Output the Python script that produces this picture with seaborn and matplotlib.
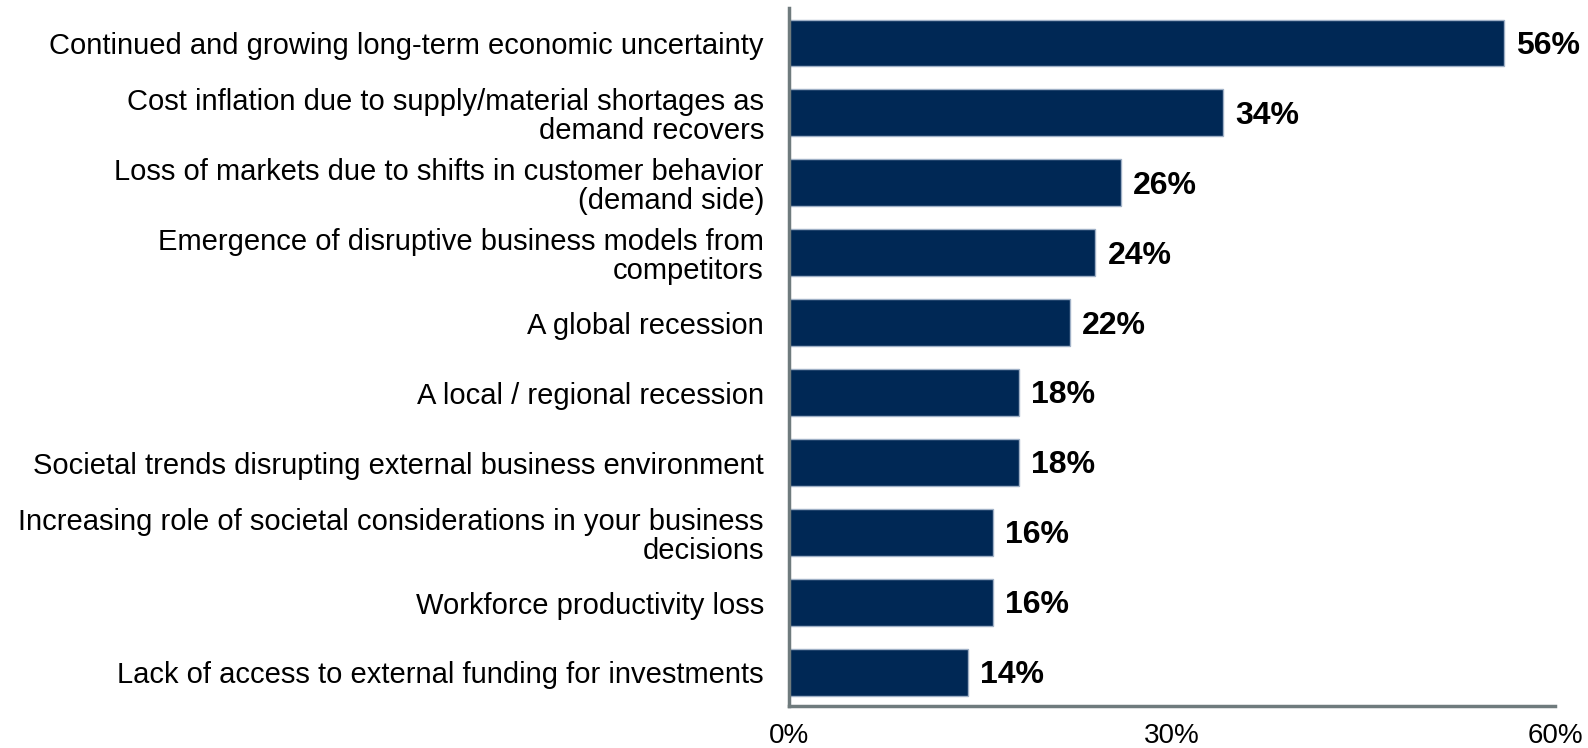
import matplotlib
matplotlib.use("Agg")
import matplotlib.pyplot as plt
import seaborn as sns
import pandas as pd

# data
categories = [
    "Continued and growing long-term economic uncertainty",
    "Cost inflation due to supply/material shortages as\ndemand recovers",
    "Loss of markets due to shifts in customer behavior\n(demand side)",
    "Emergence of disruptive business models from\ncompetitors",
    "A global recession",
    "A local / regional recession",
    "Societal trends disrupting external business environment",
    "Increasing role of societal considerations in your business\ndecisions",
    "Workforce productivity loss",
    "Lack of access to external funding for investments",
]
values = [56, 34, 26, 24, 22, 18, 18, 16, 16, 14]
x_ticks = [0, 30, 60]
x_tick_labels = ["0%", "30%", "60%"]

bar_color = "#002855"
axis_color = "#6f7b7d"

df = pd.DataFrame({"risk": categories, "share": values})

sns.set_style("white")
plt.rcParams["font.family"] = ["Liberation Sans", "DejaVu Sans"]
plt.rcParams["text.color"] = "black"
plt.rcParams["xtick.color"] = "black"
plt.rcParams["ytick.color"] = "black"

fig = plt.figure(figsize=(15.88, 7.48), dpi=100)
ax = fig.add_axes([0.4968, 0.0561, 0.4824, 0.9332])

sns.barplot(data=df, y="risk", x="share", color=bar_color, width=0.67,
            edgecolor="#9fb0c6", linewidth=1, saturation=1, ax=ax)

# value labels
for i, v in enumerate(values):
    ax.text(v + 0.95, i + 0.04, f"{v}%", va="center", ha="left",
            fontsize=23, fontweight="bold", color="black")

ax.set_xlim(0, 60)
ax.set_ylim(9.48, -0.5)
ax.set_xticks(x_ticks)
ax.set_xticklabels(x_tick_labels, fontsize=20)
ax.tick_params(axis="x", length=0, pad=12)
ax.tick_params(axis="y", length=0, pad=18, labelsize=21)
for lbl in ax.get_yticklabels():
    lbl.set_multialignment("right")
    lbl.set_linespacing(1.05)
ax.set_xlabel("")
ax.set_ylabel("")

sns.despine(ax=ax, top=True, right=True)
for side in ["left", "bottom"]:
    ax.spines[side].set_color(axis_color)
    ax.spines[side].set_linewidth(2.5)

fig.savefig("out.png", dpi=100)
